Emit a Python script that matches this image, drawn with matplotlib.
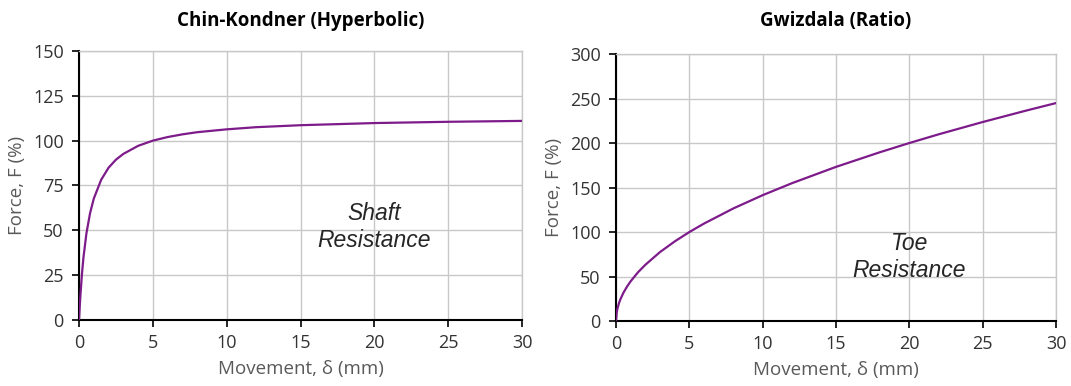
import matplotlib
matplotlib.use("Agg")
import matplotlib.pyplot as plt

plt.rcParams['font.family'] = ['Open Sans', 'DejaVu Sans']

# Chin-Kondner (Hyperbolic) - shaft
shaft_mm = [0, 0.05, 0.1, 0.2, 0.3, 0.5, 0.75, 1, 1.5, 2, 2.5, 3, 4, 5, 6, 7, 8, 10, 12, 15, 20, 25, 30]
shaft_f = [0, 7.8, 14.6, 25.9, 34.9, 48.3, 59.7, 67.7, 78.2, 84.9, 89.4, 92.6, 97.1, 100, 102.0,
           103.5, 104.7, 106.3, 107.5, 108.6, 109.8, 110.5, 111.0]

# Gwizdala (Ratio) - toe
toe_mm = [0, 0.05, 0.1, 0.2, 0.3, 0.5, 0.75, 1, 1.5, 2, 3, 4, 5, 6, 8, 10, 12, 15, 18, 20, 22, 25, 28, 30]
toe_f = [0, 10, 14.1, 20, 24.5, 31.6, 38.7, 44.7, 54.8, 63.2, 77.5, 89.4, 100, 109.5, 126.5,
         141.4, 154.9, 173.2, 189.7, 200, 209.8, 223.6, 236.6, 244.9]

x_ticks = [0, 5, 10, 15, 20, 25, 30]
shaft_yticks = [0, 25, 50, 75, 100, 125, 150]
toe_yticks = [0, 50, 100, 150, 200, 250, 300]

purple = '#7d1b8a'
grid_c = '#c8c8c8'

fig = plt.figure(figsize=(10.71, 3.86), dpi=100)
ax1 = fig.add_axes([0.0738, 0.171, 0.4136, 0.697])
ax2 = fig.add_axes([0.5752, 0.1684, 0.4108, 0.6916])


def style(ax, x, y, yticks, title, note, note_y, tpad):
    ax.plot(x, y, color=purple, lw=1.6, zorder=3)
    ax.set_xlim(0, 30)
    ax.set_ylim(yticks[0], yticks[-1])
    ax.set_xticks(x_ticks)
    ax.set_yticks(yticks)
    ax.grid(True, color=grid_c, lw=1)
    ax.set_axisbelow(True)
    for s in ['top', 'right']:
        ax.spines[s].set_color(grid_c)
        ax.spines[s].set_linewidth(1)
    for s in ['left', 'bottom']:
        ax.spines[s].set_color('black')
        ax.spines[s].set_linewidth(1.5)
    ax.tick_params(direction='out', length=5, width=1.2, colors='black',
                   labelsize=13, labelcolor='#333333')
    ax.tick_params(axis='y', pad=6)
    ax.tick_params(axis='x', pad=5)
    ax.set_xlabel('Movement, δ (mm)', fontsize=13.5, color='#595959', labelpad=6)
    ax.set_ylabel('Force, F (%)', fontsize=13.5, color='#595959', labelpad=5)
    ax.set_title(title, fontsize=13.5, fontweight='bold', color='black', pad=tpad)
    ax.text(20, note_y, note, ha='center', va='center', style='italic',
            fontsize=16.5, family='Liberation Sans', color='#262626', linespacing=1.2)


style(ax1, shaft_mm, shaft_f, shaft_yticks, 'Chin-Kondner (Hyperbolic)', 'Shaft\nResistance', 52, 18)
style(ax2, toe_mm, toe_f, toe_yticks, 'Gwizdala (Ratio)', 'Toe\nResistance', 72, 20)

fig.savefig('out.png', dpi=100)
